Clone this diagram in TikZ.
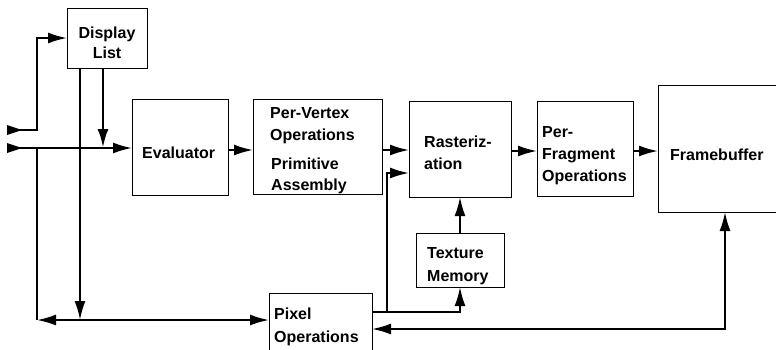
\documentclass[tikz,border=0pt]{standalone}
\usepackage{fontspec}
\setmainfont{Liberation Sans}
\usetikzlibrary{arrows.meta}
\begin{document}
\begin{tikzpicture}[x=1pt,y=-1pt,
  box/.style={draw, line width=1pt, inner sep=0pt, outer sep=0pt},
  lbl/.style={inner sep=0pt, font=\bfseries\fontsize{16}{20}\selectfont},
  conn/.style={line width=2pt},
  thick conn/.style={line width=2.8pt},
  tip/.style={-{Latex[length=19pt,width=11pt]}},
  tips/.style={{Latex[length=19pt,width=11pt]}-{Latex[length=19pt,width=11pt]}}]
\clip (0,0) rectangle (776,349);
\useasboundingbox (0,0) rectangle (776,349);
% boxes
\node[box, minimum width=80pt, minimum height=60pt] (dl) at (107,38) {};
\node[box, minimum width=96pt, minimum height=96pt] (ev) at (180,147) {};
\node[box, minimum width=129pt, minimum height=95pt] (pv) at (317.5,146.5) {};
\node[box, minimum width=102pt, minimum height=96pt] (ras) at (460,149) {};
\node[box, minimum width=96pt, minimum height=95pt] (pf) at (585,148.5) {};
\node[box, minimum width=142pt, minimum height=127pt] (fb) at (729,148.5) {};
\node[box, minimum width=88pt, minimum height=54pt] (tm) at (460,260) {};
\node[box, minimum width=103pt, minimum height=67pt] (po) at (320.5,326.5) {};
% labels
\node[lbl, anchor=base] (dl1) at (107,38) {Display};
\node[lbl, anchor=base] (dl2) at (107,58) {List};
\node[lbl, anchor=base west] (ev1) at (142,158) {Evaluator};
\node[lbl, anchor=base west] (pv1) at (270,118) {Per-Vertex};
\node[lbl, anchor=base west] (pv2) at (270,140) {Operations};
\node[lbl, anchor=base west] (pv3) at (271,169) {Primitive};
\node[lbl, anchor=base west] (pv4) at (271,190) {Assembly};
\node[lbl, anchor=base west] (ras1) at (424,147) {Rasteriz-};
\node[lbl, anchor=base west] (ras2) at (424,169) {ation};
\node[lbl, anchor=base west] (pf1) at (542,137) {Per-};
\node[lbl, anchor=base west] (pf2) at (542,159) {Fragment};
\node[lbl, anchor=base west] (pf3) at (542,181) {Operations};
\node[lbl, anchor=base west] (fb1) at (670,160) {Framebuffer};
\node[lbl, anchor=base west] (tm1) at (427,258) {Texture};
\node[lbl, anchor=base west] (tm2) at (427,281) {Memory};
\node[lbl, anchor=base west] (po1) at (274,319) {Pixel};
\node[lbl, anchor=base west] (po2) at (274,342) {Operations};
% free ends on the left
\coordinate (inA) at (8,130);
\coordinate (inB) at (8,148);
\fill (7,125) -- (22,130) -- (7,135) -- cycle;
\fill (7,143) -- (22,148) -- (7,153) -- cycle;
% input to display list
\draw[conn, tip] (inA) -- (37,130) -- (37,38) -- (dl.west);
% input to evaluator
\draw[conn, tip] (inB) -- (ev.west |- inB);
% display list to evaluator
\draw[thick conn, tip] (dl.south west) ++(36,0) -- (103,148);
% display list down to pixel line
\draw[conn, tip] (dl.south west) ++(13,0) -- (80,320);
% left vertical and pixel line
\draw[conn] (37,148) -- (37,320);
\draw[conn, tips] (37,320) -- (po.west |- 0,320);
% pipeline
\draw[conn, tip] (ev.east |- 0,150) -- (pv.west |- 0,150);
\draw[conn, tip] (pv.east |- 0,150) -- (ras.west |- 0,150);
\draw[conn, tip] (ras.east |- 0,151) -- (pf.west |- 0,151);
\draw[conn, tip] (pf.east |- 0,151) -- (fb.west |- 0,151);
% pixel ops to rasterization and texture memory
\coordinate (j) at (387,312);
\draw[conn, tip] (po.east |- j) -- (j) -- (387,173) -- (ras.west |- 0,173);
\draw[conn, tip] (j) -- (tm.south |- j) -- (tm.south);
\draw[conn, tip] (tm.north) -- (ras.south);
% framebuffer <-> pixel ops
\draw[conn, tips] (fb.south west) ++(67,0) -- (725,329) -- (po.east |- 0,329);
\end{tikzpicture}
\end{document}
